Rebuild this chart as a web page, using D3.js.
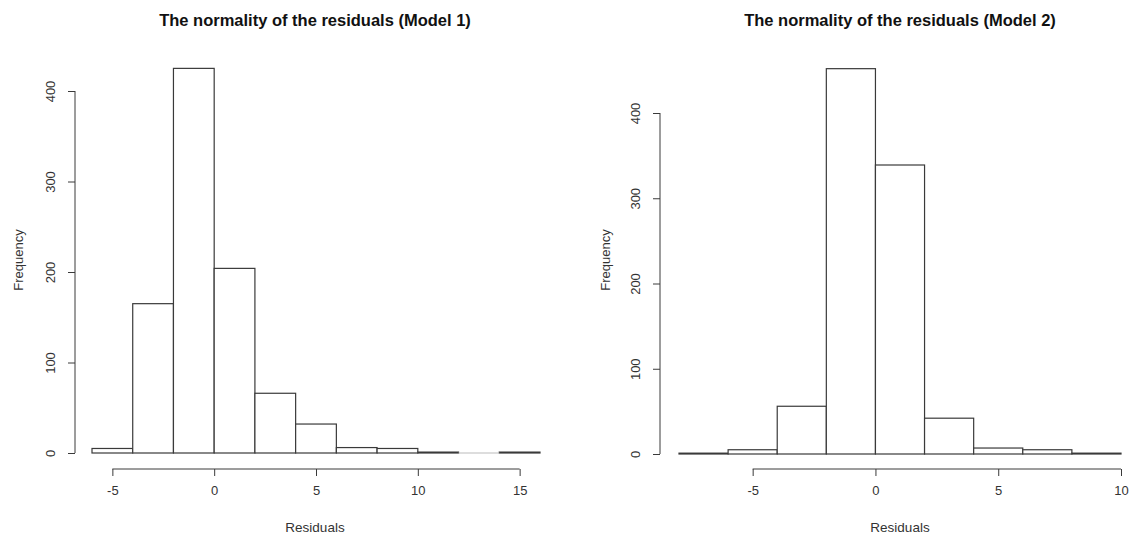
<!DOCTYPE html>
<html>
<head>
<meta charset="utf-8">
<script src="https://cdn.jsdelivr.net/npm/d3@7"></script>
<style>
  body { margin: 0; background: #fff; }
  text { font-family: "Liberation Sans", Arial, sans-serif; }
</style>
</head>
<body>
<script>
// histogram breaks and counts
var breaks1 = [-6, -4, -2, 0, 2, 4, 6, 8, 10, 12, 14, 16];
var counts1 = [5, 165, 425, 204, 66, 32, 6, 5, 1, 0, 1];
var xTicks1 = [-5, 0, 5, 10, 15];

var breaks2 = [-8, -6, -4, -2, 0, 2, 4, 6, 8, 10];
var counts2 = [1, 5, 56, 452, 339, 42, 7, 5, 1];
var xTicks2 = [-5, 0, 5, 10];

var yTicks = [0, 100, 200, 300, 400];
var titles = ["The normality of the residuals (Model 1)", "The normality of the residuals (Model 2)"];

var svg = d3.select("body").append("svg")
    .attr("width", 1131)
    .attr("height", 536);

var panels = [
    {breaks: breaks1, counts: counts1, xTicks: xTicks1, title: titles[0],
     xr: [92, 540], yr: [453, 91], yAxisX: 75, freqX: 18, midX: 315},
    {breaks: breaks2, counts: counts2, xTicks: xTicks2, title: titles[1],
     xr: [679, 1121], yr: [454, 113], yAxisX: 660, freqX: 605, midX: 900}
];

var axisY = 469;
var ink = "#3a3a3a";

panels.forEach(function(p) {
    var x = d3.scaleLinear()
        .domain([p.breaks[0], p.breaks[p.breaks.length - 1]])
        .range(p.xr);
    var y = d3.scaleLinear().domain([0, 400]).range(p.yr);

    var bins = p.counts.map(function(c, i) {
        return {x0: p.breaks[i], x1: p.breaks[i + 1], n: c};
    });

    var g = svg.append("g");

    g.selectAll("rect.bar")
        .data(bins.filter(function(d) { return d.n > 0; }))
        .enter().append("rect")
        .attr("class", "bar")
        .attr("x", function(d) { return x(d.x0); })
        .attr("y", function(d) { return y(d.n); })
        .attr("width", function(d) { return x(d.x1) - x(d.x0); })
        .attr("height", function(d) { return y(0) - y(d.n); })
        .style("fill", "white")
        .style("stroke", ink)
        .style("stroke-width", 1.2);

    // empty bins still leave a faint line in R
    g.selectAll("line.empty")
        .data(bins.filter(function(d) { return d.n === 0; }))
        .enter().append("line")
        .attr("class", "empty")
        .attr("x1", function(d) { return x(d.x0); })
        .attr("x2", function(d) { return x(d.x1); })
        .attr("y1", y(0))
        .attr("y2", y(0))
        .style("stroke", "#bbb")
        .style("stroke-width", 1.2);

    // x axis
    var xa = g.append("g")
        .attr("transform", "translate(0," + axisY + ")")
        .call(d3.axisBottom(x).tickValues(p.xTicks).tickFormat(String)
            .tickSize(7).tickSizeOuter(0).tickPadding(10));
    xa.select(".domain").remove();
    xa.append("line")
        .attr("x1", x(p.xTicks[0]))
        .attr("x2", x(p.xTicks[p.xTicks.length - 1]))
        .attr("stroke", ink);
    xa.selectAll(".tick line").attr("stroke", ink);
    xa.selectAll(".tick text")
        .style("font-size", "13px")
        .style("fill", "#333")
        .style("font-family", "Liberation Sans, Arial, sans-serif");

    // y axis
    var ya = g.append("g")
        .attr("transform", "translate(" + p.yAxisX + ",0)")
        .call(d3.axisLeft(y).tickValues(yTicks).tickFormat(String)
            .tickSize(7).tickSizeOuter(0));
    ya.select(".domain").remove();
    ya.append("line")
        .attr("y1", y(0))
        .attr("y2", y(400))
        .attr("stroke", ink);
    ya.selectAll(".tick line").attr("stroke", ink);
    ya.selectAll(".tick text")
        .attr("x", null).attr("dy", null)
        .attr("text-anchor", "middle")
        .attr("transform", "translate(-25,0) rotate(-90)")
        .attr("dy", "0.35em")
        .style("font-size", "13px")
        .style("fill", "#333")
        .style("font-family", "Liberation Sans, Arial, sans-serif");

    g.append("text")
        .attr("x", p.midX)
        .attr("y", 26)
        .attr("text-anchor", "middle")
        .style("font-weight", "bold")
        .style("font-size", "16.5px")
        .style("fill", "#111")
        .text(p.title);

    g.append("text")
        .attr("x", p.midX)
        .attr("y", 532)
        .attr("text-anchor", "middle")
        .style("font-size", "13.5px")
        .style("fill", "#333")
        .text("Residuals");

    g.append("text")
        .attr("transform", "translate(" + p.freqX + ",260) rotate(-90)")
        .attr("text-anchor", "middle")
        .attr("dy", "0.35em")
        .style("font-size", "13px")
        .style("fill", "#333")
        .text("Frequency");
});
</script>
</body>
</html>
